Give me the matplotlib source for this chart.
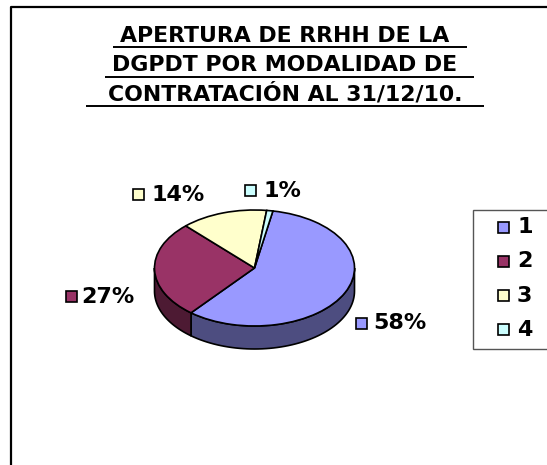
import numpy as np
import matplotlib
matplotlib.use("Agg")
import matplotlib.pyplot as plt
from matplotlib.patches import Rectangle, Polygon

plt.rcParams['font.family'] = ['DejaVu Sans']

categories = ['1', '2', '3', '4']
values = [58, 27, 14, 1]
pct_labels = ['58%', '27%', '14%', '1%']
title_lines = ['APERTURA DE RRHH DE LA', 'DGPDT POR MODALIDAD DE', 'CONTRATACIÓN AL 31/12/10.']
colors = ['#9999FF', '#993366', '#FFFFCC', '#CCFFFF']
dark_colors = ['#4D4D80', '#4D1A33', '#808066', '#668080']

W, H = 547, 465
fig = plt.figure(figsize=(W / 100, H / 100), dpi=100, facecolor='white')

ov = fig.add_axes([0, 0, 1, 1], zorder=3)
ov.set_xlim(0, W); ov.set_ylim(H, 0); ov.axis('off'); ov.patch.set_alpha(0)

ov.plot([10.5, 10.5, W + 2], [H + 2, 7, 7], color='black', lw=1.6, solid_capstyle='butt')

title_y = [36, 65, 94]
ul_y = [47.5, 77, 106.5]
ul_x = [(113, 467), (105, 474), (86, 484)]
for t, y, uy, (x0, x1) in zip(title_lines, title_y, ul_y, ul_x):
    ov.text(285, y, t, ha='center', va='center', fontsize=15.8, fontweight='bold', color='black')
    ov.plot([x0, x1], [uy, uy], color='black', lw=1.4, solid_capstyle='butt')

cx, cy, rx, ry, depth = 254.5, 268, 100, 58, 23
ax = fig.add_axes([(cx - rx) / W, 1 - (cy + ry) / H, 2 * rx / W, 2 * ry / H], zorder=2)
start = 79.4
ax.patch.set_alpha(0)
dy = 2 * depth / (2 * ry)

ang = start
for v, c in zip(values, dark_colors):
    a1 = ang - v * 3.6
    lo, hi = a1, ang
    for shift in (0, -360):
        l, h = max(lo, 180 + shift), min(hi, 360 + shift)
        if h > l:
            t = np.radians(np.linspace(l, h, 60))
            xs, ys = np.cos(t), np.sin(t)
            pts = np.r_[np.c_[xs, ys], np.c_[xs, ys - dy][::-1]]
            ax.add_patch(Polygon(pts, closed=True, facecolor=c, edgecolor='black', lw=1.2, clip_on=False))
    ang = a1

ax.pie(values, colors=colors, startangle=start, counterclock=False, radius=1.0,
       wedgeprops=dict(edgecolor='black', linewidth=1.2, clip_on=False))
ax.set_aspect('auto')
ax.set_xlim(-1, 1); ax.set_ylim(-1, 1)
ax.axis('off')

label_pos = [(373, 323), (81, 297), (152, 195), (263, 191)]
key_pos = [(361, 323), (71, 296), (138, 194), (250, 190)]
for lab, (x, y), (kx, ky), c in zip(pct_labels, label_pos, key_pos, colors):
    ov.text(x, y, lab, ha='left', va='center', fontsize=16, fontweight='bold', color='black')
    ov.add_patch(Rectangle((kx - 5.5, ky - 5.5), 11, 11, facecolor=c, edgecolor='black', lw=1.2))

ov.add_patch(Rectangle((472.5, 209.5), 80, 139, facecolor='white', edgecolor='#555555', lw=1.0, zorder=1))
for i, (cat, c) in enumerate(zip(categories, colors)):
    y = 227 + i * 34.3
    ov.add_patch(Rectangle((497.5, y - 5.5), 11, 11, facecolor=c, edgecolor='black', lw=1.2, zorder=2))
    ov.text(517, y, cat, ha='left', va='center', fontsize=16, fontweight='bold', color='black', zorder=2)

fig.savefig('out.png', dpi=100)
